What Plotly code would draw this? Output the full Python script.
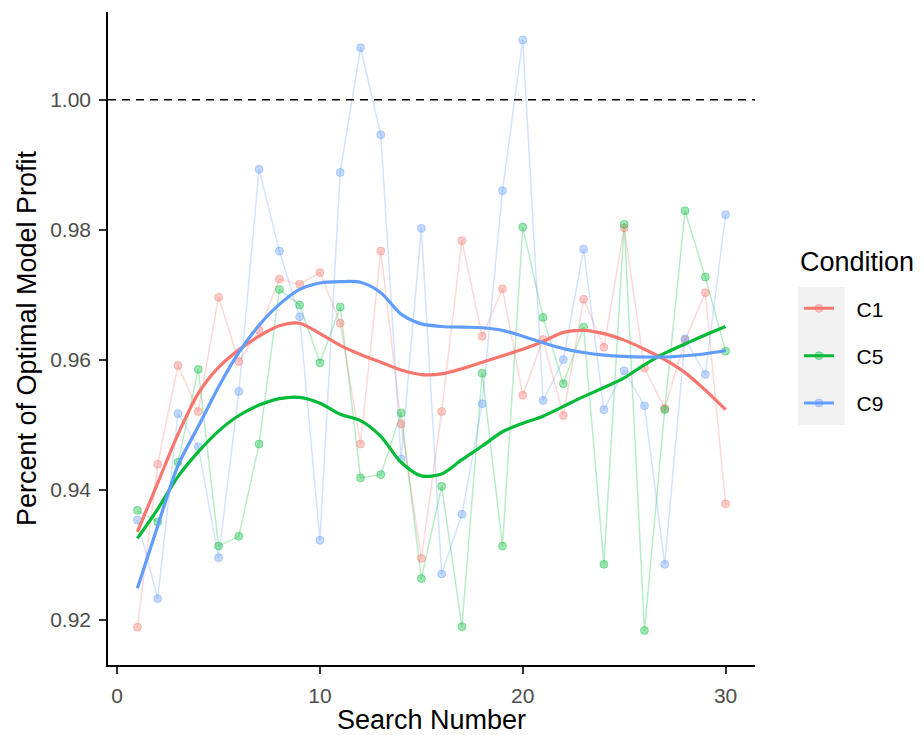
import plotly.graph_objects as go

# Search number (x) shared by every condition
search_number = list(range(1, 31))

# Percent of optimal model profit per search, by condition
profit_c1 = [0.9188, 0.9439, 0.9591, 0.9520, 0.9696, 0.9597, 0.9645, 0.9724, 0.9716, 0.9734,
             0.9656, 0.9470, 0.9767, 0.9501, 0.9294, 0.9520, 0.9783, 0.9636, 0.9709, 0.9545,
             0.9631, 0.9514, 0.9693, 0.9619, 0.9803, 0.9587, 0.9525, 0.9630, 0.9703, 0.9378]
profit_c5 = [0.9368, 0.9350, 0.9442, 0.9585, 0.9313, 0.9328, 0.9470, 0.9708, 0.9684, 0.9595,
             0.9681, 0.9418, 0.9423, 0.9518, 0.9263, 0.9405, 0.9189, 0.9579, 0.9313, 0.9804,
             0.9665, 0.9563, 0.9650, 0.9285, 0.9808, 0.9183, 0.9523, 0.9829, 0.9727, 0.9613]
profit_c9 = [0.9353, 0.9232, 0.9517, 0.9466, 0.9295, 0.9551, 0.9893, 0.9767, 0.9666, 0.9322,
             0.9888, 1.0080, 0.9946, 0.9447, 0.9802, 0.9270, 0.9362, 0.9532, 0.9860, 1.0092,
             0.9537, 0.9600, 0.9770, 0.9523, 0.9583, 0.9529, 0.9285, 0.9632, 0.9577, 0.9823]

# Smoothed trend per condition, evaluated at each search number
smooth_c1 = [0.9335, 0.9410, 0.9485, 0.9548, 0.9588, 0.9615, 0.9636, 0.9652, 0.9656, 0.9640,
             0.9622, 0.9608, 0.9596, 0.9584, 0.9577, 0.9578, 0.9586, 0.9596, 0.9606, 0.9616,
             0.9628, 0.9642, 0.9645, 0.9640, 0.9630, 0.9616, 0.9600, 0.9580, 0.9553, 0.9523]
smooth_c5 = [0.9325, 0.9370, 0.9420, 0.9458, 0.9490, 0.9514, 0.9530, 0.9540, 0.9542, 0.9533,
             0.9516, 0.9506, 0.9482, 0.9442, 0.9421, 0.9424, 0.9446, 0.9467, 0.9489, 0.9502,
             0.9513, 0.9528, 0.9543, 0.9557, 0.9572, 0.9592, 0.9610, 0.9624, 0.9638, 0.9651]
smooth_c9 = [0.9248, 0.9344, 0.9437, 0.9497, 0.9558, 0.9611, 0.9653, 0.9685, 0.9708, 0.9718,
             0.9720, 0.9719, 0.9703, 0.9670, 0.9655, 0.9651, 0.9650, 0.9649, 0.9645, 0.9636,
             0.9626, 0.9617, 0.9611, 0.9607, 0.9605, 0.9604, 0.9604, 0.9606, 0.9609, 0.9614]

conditions = ["C1", "C5", "C9"]
y_ticks = [0.92, 0.94, 0.96, 0.98, 1.00]
y_tick_text = ["0.92", "0.94", "0.96", "0.98", "1.00"]
x_ticks = [0, 10, 20, 30]
reference_level = 1.00

raw = {"C1": profit_c1, "C5": profit_c5, "C9": profit_c9}
smooth = {"C1": smooth_c1, "C5": smooth_c5, "C9": smooth_c9}
rgb = {"C1": (248, 118, 109), "C5": (0, 186, 56), "C9": (97, 156, 255)}

FONT = "Liberation Sans, Arial, sans-serif"


def rgba(c, a):
    return f"rgba({c[0]},{c[1]},{c[2]},{a})"


fig = go.Figure()

# faint connecting lines per condition
for cond in conditions:
    fig.add_trace(go.Scatter(
        x=search_number, y=raw[cond], mode="lines",
        line=dict(color=rgba(rgb[cond], 0.28), width=1.5),
        showlegend=False, hoverinfo="skip"))

# semi-transparent points
for cond in conditions:
    fig.add_trace(go.Scatter(
        x=search_number, y=raw[cond], mode="markers",
        marker=dict(size=8, color=rgba(rgb[cond], 0.38),
                    line=dict(color=rgba(rgb[cond], 0.38), width=1)),
        showlegend=False, name=cond))

# smoothed trends
for cond in conditions:
    fig.add_trace(go.Scatter(
        x=search_number, y=smooth[cond], mode="lines",
        line=dict(color=rgba(rgb[cond], 1), width=3.2, shape="spline", smoothing=0.8),
        showlegend=False, hoverinfo="skip"))

# legend keys: solid trend line with a faint point on it
for cond in conditions:
    fig.add_trace(go.Scatter(
        x=[None], y=[None], mode="lines+markers", name="\u00a0\u00a0\u00a0" + cond,
        legendgroup=cond,
        line=dict(color=rgba(rgb[cond], 1), width=3),
        marker=dict(size=8, color=rgba(rgb[cond], 0.38),
                    line=dict(color=rgba(rgb[cond], 0.38), width=1))))

# key background panel
fig.add_shape(type="rect", xref="paper", yref="paper",
              x0=1.0665, x1=1.139, y0=0.3675, y1=0.579,
              fillcolor="#F2F2F2", line=dict(width=0), layer="below")

# legend title
fig.add_annotation(text="Condition", xref="paper", yref="paper",
                   x=1.0660, y=0.617, xanchor="left", yanchor="middle",
                   showarrow=False, font=dict(size=27, color="black"))

# reference line at 100% of optimal profit
fig.add_hline(y=reference_level, line=dict(color="black", width=1.5, dash="8px,6px"))

fig.update_layout(
    width=924, height=735,
    margin=dict(l=108, r=169, t=12, b=70),
    plot_bgcolor="white", paper_bgcolor="white",
    font=dict(family=FONT, color="black"),
    legend=dict(
        font=dict(size=21, color="black"),
        x=1.0680, xanchor="left", y=0.577, yanchor="top",
        bgcolor="rgba(0,0,0,0)", traceorder="grouped", tracegroupgap=17,
    ),
    xaxis=dict(
        range=[-0.45, 31.45], tickvals=x_ticks, showgrid=False, zeroline=False,
        showline=True, linecolor="black", linewidth=1.5, automargin=False,
        ticks="outside", ticklen=7, tickwidth=1.5, tickcolor="#333333",
        tickfont=dict(size=21, color="#4D4D4D"), ticklabelstandoff=4,
        title=dict(text="Search Number", font=dict(size=27, color="black"), standoff=4),
    ),
    yaxis=dict(
        range=[0.9130, 1.0135], tickvals=y_ticks, ticktext=y_tick_text,
        showgrid=False, zeroline=False, automargin=False,
        showline=True, linecolor="black", linewidth=1.5,
        ticks="outside", ticklen=7, tickwidth=1.5, tickcolor="#333333",
        tickfont=dict(size=21, color="#4D4D4D"), ticklabelstandoff=4,
        title=dict(text="Percent of Optimal Model Profit", font=dict(size=27, color="black"),
                   standoff=6),
    ),
)

fig.write_html("out.html")
